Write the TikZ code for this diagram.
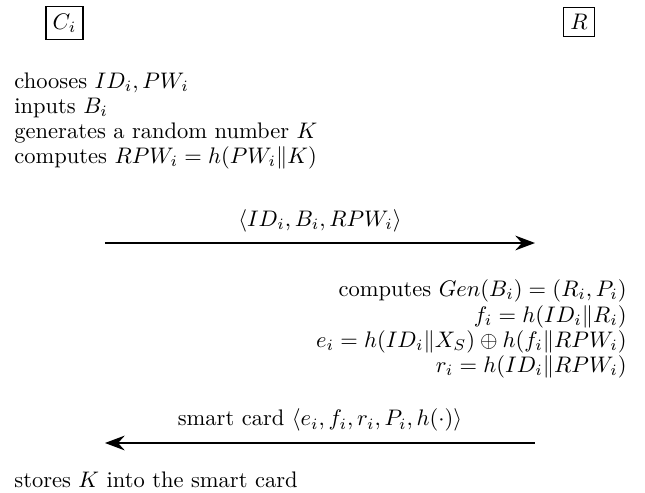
\documentclass[tikz,border=0pt]{standalone}
\usepackage{amsmath,amssymb}
\usetikzlibrary{arrows.meta}
\begin{document}
\begin{tikzpicture}[x=0.4444pt,y=-0.4444pt,
  party/.style={draw, inner sep=3pt, line width=0.5pt},
  lstep/.style={anchor=base west, inner sep=0pt},
  rstep/.style={anchor=base east, inner sep=0pt},
  msglabel/.style={anchor=base, inner sep=0pt},
  msg/.style={line width=0.55pt, -{Stealth[length=8.8pt, width=6.6pt, inset=3pt]}}]
\useasboundingbox (0,0) rectangle (645,493);

% participants
\node[party] (Ci) at (64.5,23) {$C_i$};
\node[party] (R) at (579,22) {$R$};

% user side, registration input
\node[lstep] (c1) at (14,88) {chooses $ID_i, PW_i$};
\node[lstep] (c2) at (14,113) {inputs $B_i$};
\node[lstep] (c3) at (14,138) {generates a random number $K$};
\node[lstep] (c4) at (14,163) {computes $RPW_i = h(PW_i\|K)$};

% first message
\coordinate (m1s) at (105,243);
\coordinate (m1e) at (535,243);
\draw[msg] (m1s) -- (m1e);
\node[msglabel] (m1) at (320,226) {$\langle ID_i, B_i, RPW_i\rangle$};

% server side
\node[rstep] (s1) at (627,296) {computes $Gen(B_i) = (R_i, P_i)$};
\node[rstep] (s2) at (627,322) {$f_i = h(ID_i\|R_i)$};
\node[rstep] (s3) at (627,347) {$e_i = h(ID_i\|X_S) \oplus h(f_i\|RPW_i)$};
\node[rstep] (s4) at (627,372) {$r_i = h(ID_i\|RPW_i)$};

% second message
\coordinate (m2s) at (535,443);
\coordinate (m2e) at (105,443);
\draw[msg] (m2s) -- (m2e);
\node[msglabel] (m2) at (320,426) {smart card $\langle e_i, f_i, r_i, P_i, h(\cdot)\rangle$};

\node[lstep] (c5) at (14,488) {stores $K$ into the smart card};
\end{tikzpicture}
\end{document}
